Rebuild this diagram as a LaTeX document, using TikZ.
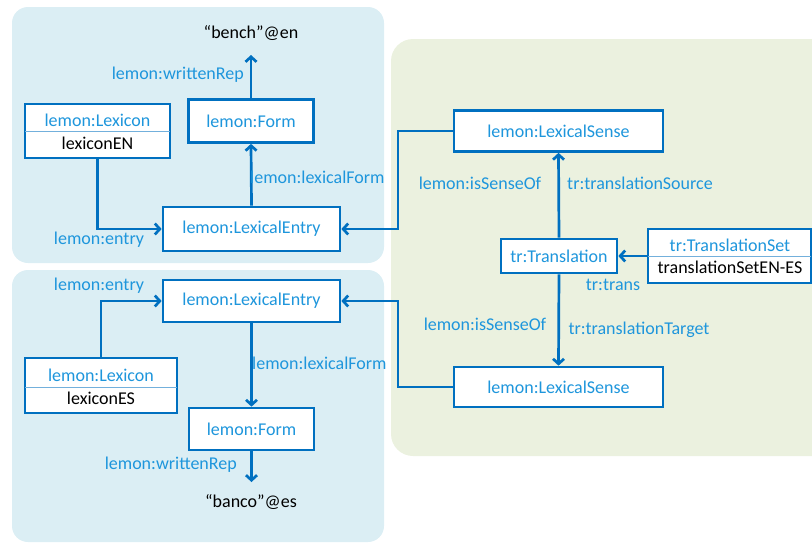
\documentclass[tikz,border=0pt]{standalone}
\usepackage{fontspec}
\setmainfont{Carlito}
\usetikzlibrary{arrows.meta}
\definecolor{panelblue}{RGB}{219,238,244}
\definecolor{panelgreen}{RGB}{235,241,223}
\definecolor{boxblue}{RGB}{0,112,192}
\definecolor{txtblue}{RGB}{30,150,220}
\tikzset{
  box/.style={draw=boxblue, line width=2.7pt, fill=white, text=txtblue, inner sep=0pt},
  lbl/.style={text=txtblue, inner sep=0pt},
  blk/.style={text=black, inner sep=0pt},
  conn/.style={draw=boxblue, line width=2.7pt, -{Straight Barb[length=5pt,width=11pt]}},
  divider/.style={draw=boxblue!55, line width=1pt}
}
\begin{document}
\begin{tikzpicture}[x=1pt,y=-1pt,font=\fontsize{18}{21}\selectfont]
\useasboundingbox (0,0) rectangle (812,544);
\clip (0,0) rectangle (812,544);
% panels
\fill[panelblue, rounded corners=16pt] (12,7) rectangle (384,263);
\fill[panelblue, rounded corners=16pt] (12,270) rectangle (384,542);
\fill[panelgreen, rounded corners=22pt] (391,39) rectangle (840,456);

% English side
\node[blk] (bench) at (251,33) {“bench”@en};
\coordinate (benchtip) at (251,55);
\node[box, minimum width=125pt, minimum height=43pt] (formEN) at (251,121) {lemon:Form};
\node[box, minimum width=177pt, minimum height=44pt] (entryEN) at (251.5,229) {lemon:LexicalEntry};
\node[box, minimum width=145pt, minimum height=54pt] (lexEN) at (97.5,131) {};
\draw[divider] (25,131) -- (170,131);
\node[lbl] (lexENt) at (97.5,120) {lemon:Lexicon};
\node[blk] (lexENn) at (97.5,143) {lexiconEN};

\draw[conn] (formEN.north) -- (benchtip);
\draw[conn] (entryEN.north) -- (formEN.south);
\draw[conn] (lexEN.south) |- (entryEN.west);

\node[lbl, anchor=east] (wrEN) at (244,75) {lemon:writtenRep};
\node[lbl, anchor=west] (lfEN) at (250,177) {lemon:lexicalForm};
\node[lbl] (enEN) at (99,240) {lemon:entry};

% Spanish side
\node[box, minimum width=177pt, minimum height=42pt] (entryES) at (251.5,301) {lemon:LexicalEntry};
\node[box, minimum width=125pt, minimum height=42pt] (formES) at (251.5,429) {lemon:Form};
\node[box, minimum width=152pt, minimum height=55pt] (lexES) at (101,385.5) {};
\draw[divider] (25,387) -- (177,387);
\node[lbl] (lexESt) at (101,375) {lemon:Lexicon};
\node[blk] (lexESn) at (101,398) {lexiconES};
\node[blk] (banco) at (251,502) {“banco”@es};
\coordinate (bancotip) at (251.5,482);

\draw[conn] (lexES.north) |- (entryES.west);
\draw[conn] (entryES.south) -- (formES.north);
\draw[conn] (formES.south) -- (bancotip);

\node[lbl] (enES) at (99,286) {lemon:entry};
\node[lbl, anchor=west] (lfES) at (252,363) {lemon:lexicalForm};
\node[lbl, anchor=east] (wrES) at (237,465) {lemon:writtenRep};

% Translation side
\node[box, minimum width=209pt, minimum height=41pt] (senseTop) at (558.5,131) {lemon:LexicalSense};
\node[box, minimum width=116pt, minimum height=34pt] (trans) at (559,256) {tr:Translation};
\node[box, minimum width=163pt, minimum height=54pt] (tset) at (729.5,256) {};
\draw[divider] (648,256) -- (811,256);
\node[lbl] (tsett) at (730,245) {tr:TranslationSet};
\node[blk] (tsetn) at (730,267) {translationSetEN-ES};
\node[box, minimum width=209pt, minimum height=40pt] (senseBot) at (558.5,387) {lemon:LexicalSense};

\coordinate (bendA) at (398,131);
\coordinate (bendB) at (398,387);
\draw[conn] (senseTop.west) -- (bendA) |- (entryEN.east);
\draw[conn] (senseBot.west) -- (bendB) |- (entryES.east);
\draw[conn] (trans.north) -- (senseTop.south);
\draw[conn] (trans.south) -- (senseBot.north);
\draw[conn] (tset.west) -- (trans.east);

\node[lbl] (iso1) at (480,183) {lemon:isSenseOf};
\node[lbl] (tsrc) at (640,183) {tr:translationSource};
\node[lbl] (ttr) at (613,285) {tr:trans};
\node[lbl] (iso2) at (485,324) {lemon:isSenseOf};
\node[lbl] (ttgt) at (639,330) {tr:translationTarget};
\end{tikzpicture}
\end{document}
